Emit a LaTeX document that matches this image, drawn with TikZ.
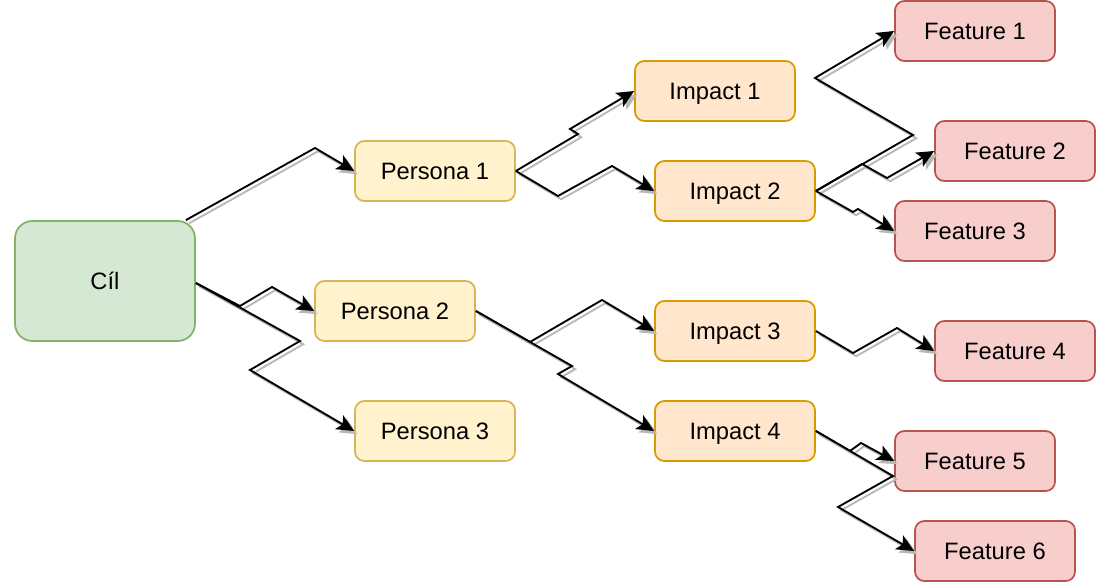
\documentclass[tikz,border=0pt]{standalone}
\usepackage{fontspec}
\setmainfont{Liberation Sans}
\usetikzlibrary{arrows.meta,calc}
\definecolor{gfill}{HTML}{D5E8D4}\definecolor{gline}{HTML}{82B366}
\definecolor{yfill}{HTML}{FFF2CC}\definecolor{yline}{HTML}{D6B656}
\definecolor{ofill}{HTML}{FFE6CC}\definecolor{oline}{HTML}{D79B00}
\definecolor{rfill}{HTML}{F8CECC}\definecolor{rline}{HTML}{B85450}
\definecolor{shadowgray}{HTML}{B8B8B8}
\tikzset{
  box/.style={draw, line width=1.3pt, rounded corners=7pt, minimum width=120pt, minimum height=45pt,
    inner sep=0pt, font=\fontsize{17.8}{20}\selectfont, text depth=0pt},
  goal/.style={box, fill=gfill, draw=gline, minimum width=135pt, minimum height=90pt, rounded corners=13pt},
  persona/.style={box, fill=yfill, draw=yline},
  impact/.style={box, fill=ofill, draw=oline},
  feature/.style={box, fill=rfill, draw=rline},
  edgeline/.style={draw=black, line width=1.4pt, line join=miter,
    -{Stealth[length=13pt,width=12pt,inset=3pt]}},
  shadowline/.style={edgeline, draw=shadowgray, color=shadowgray,
    transform canvas={shift={(2.4pt,-2.4pt)}}}
}
\newcommand\isoedge[1]{\path[shadowline] #1; \path[edgeline] #1;}
\begin{document}
\begin{tikzpicture}[x=0.75pt,y=-0.75pt]
\useasboundingbox (0,0) rectangle (1096,582);
% nodes
\node[goal] (cil) at (105,281) {Cíl};
\node[persona] (p1) at (435,171) {Persona 1};
\node[persona] (p2) at (395,311) {Persona 2};
\node[persona] (p3) at (435,431) {Persona 3};
\node[impact] (i1) at (715,91) {Impact 1};
\node[impact] (i2) at (735,191) {Impact 2};
\node[impact] (i3) at (735,331) {Impact 3};
\node[impact] (i4) at (735,431) {Impact 4};
\node[feature] (f1) at (975,31) {Feature 1};
\node[feature] (f2) at (1015,151) {Feature 2};
\node[feature] (f3) at (975,231) {Feature 3};
\node[feature] (f4) at (1015,351) {Feature 4};
\node[feature] (f5) at (975,461) {Feature 5};
\node[feature] (f6) at (995,551) {Feature 6};
% connectors
\isoedge{($(cil.north east)+(-10,0)$) -- (315,148) -- (p1.west)}
\isoedge{($(cil.east)+(0,2)$) -- (240,306) -- (272,287) -- (p2.west)}
\isoedge{($(cil.east)+(0,2)$) -- (300,341) -- (250,370) -- (p3.west)}
\isoedge{(p1.east) -- (578,134) -- (570,129) -- (i1.west)}
\isoedge{(p1.east) -- (558,196) -- (612,166) -- (i2.west)}
\isoedge{(i2.east) -- (913,135) -- (815,78) -- (f1.west)}
\isoedge{(i2.east) -- (862,164) -- (887,178) -- (f2.west)}
\isoedge{(i2.east) -- (853,212) -- (858,209) -- (f3.west)}
\isoedge{(p2.east) -- (530,342) -- (602,300) -- (i3.west)}
\isoedge{(p2.east) -- (572,366) -- (558,374) -- (i4.west)}
\isoedge{(i3.east) -- (853,353) -- (897,328) -- (f4.west)}
\isoedge{(i4.east) -- (850,451) -- (861,443) -- (f5.west)}
\isoedge{(i4.east) -- (893,476) -- (838,507) -- (f6.west)}
\end{tikzpicture}
\end{document}
